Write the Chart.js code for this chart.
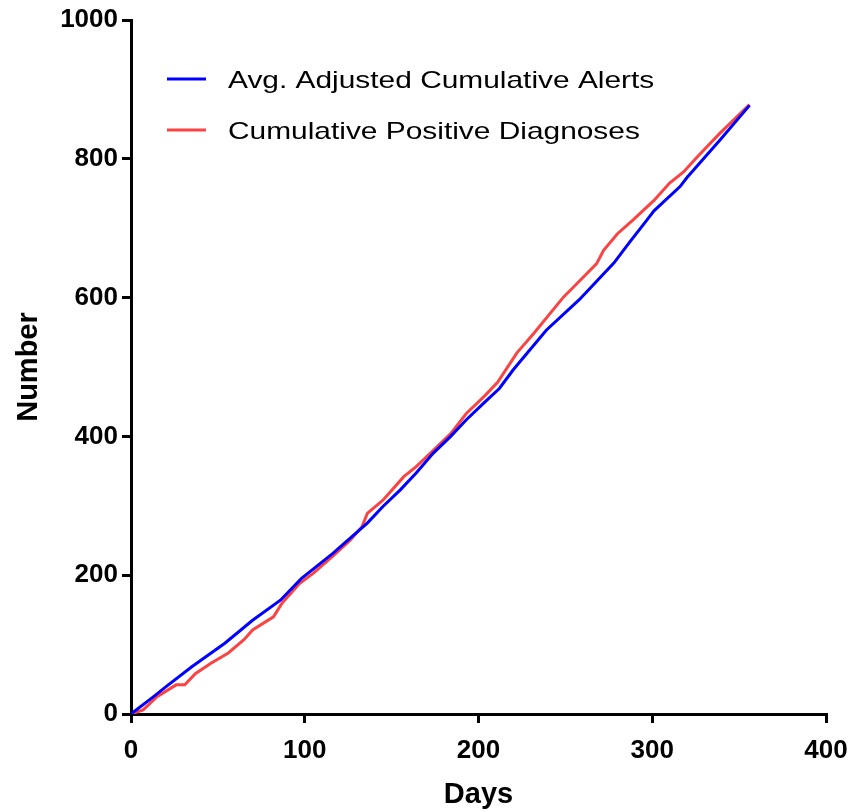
<!DOCTYPE html>
<html>
<head>
<meta charset="utf-8">
<script src="https://cdn.jsdelivr.net/npm/chart.js@4/dist/chart.umd.min.js"></script>
<style>
    html, body { margin: 0; padding: 0; background: #fff; }
    #wrap { width: 851px; height: 812px; }
</style>
</head>
<body>
<div id="wrap"><canvas id="myChart" width="851" height="812"></canvas></div>
<script>
// Dane
const alertDays = [0, 13, 20, 35, 54, 70, 86, 98, 116, 126, 136, 145, 155, 164, 174, 184, 193, 203, 212, 220, 239, 258, 278, 287, 297, 301, 316, 320, 339, 356];
const alertValues = [0, 25, 39, 68, 102, 135, 164, 195, 231, 253, 275, 299, 323, 347, 376, 400, 424, 448, 469, 496, 553, 597, 650, 680, 712, 725, 760, 773, 827, 877];

const diagDays = [0, 7, 15, 26, 31, 37, 46, 56, 65, 70, 82, 87, 97, 105, 116, 126, 133, 136, 145, 157, 164, 174, 184, 193, 203, 211, 222, 232, 249, 255, 268, 272, 280, 289, 301, 310, 318, 326, 339, 356];
const diagValues = [0, 6, 25, 42, 42, 58, 73, 88, 107, 121, 140, 160, 188, 203, 227, 250, 270, 289, 308, 342, 356, 380, 404, 433, 457, 478, 520, 549, 601, 616, 649, 668, 692, 712, 740, 765, 781, 803, 837, 878];

const seriesLabels = ['Avg. Adjusted Cumulative Alerts', 'Cumulative Positive Diagnoses'];
const xTicks = [0, 100, 200, 300, 400];
const yTicks = [0, 200, 400, 600, 800, 1000];

function toPoints(xs, ys) {
    return xs.map(function (x, i) { return { x: x, y: ys[i] }; });
}

// Legenda rysowana wewnątrz obszaru wykresu
const insideLegend = {
    id: 'insideLegend',
    afterDraw: function (chart) {
        const ctx = chart.ctx;
        ctx.save();
        ctx.font = '24px "Liberation Sans", Arial, sans-serif';
        ctx.textBaseline = 'middle';
        ctx.fillStyle = '#000';
        chart.data.datasets.forEach(function (ds, i) {
            const y = 79 + i * 51;
            ctx.strokeStyle = ds.borderColor;
            ctx.lineWidth = 3;
            ctx.beginPath();
            ctx.moveTo(167, y);
            ctx.lineTo(206, y);
            ctx.stroke();
            // tekst w oryginale jest szerszy, więc rozciągamy go poziomo
            ctx.save();
            ctx.translate(228, y + 2);
            ctx.scale(1.245, 1);
            ctx.fillText(ds.label, 0, 0);
            ctx.restore();
        });
        ctx.restore();
    }
};

const tickFont = { family: '"Liberation Sans", Arial, sans-serif', size: 26, weight: 'bold' };
const titleFont = { family: '"Liberation Sans", Arial, sans-serif', size: 29, weight: 'bold' };

const ctx = document.getElementById('myChart').getContext('2d');
const chart = new Chart(ctx, {
    type: 'line',
    data: {
        datasets: [{
            label: seriesLabels[0],
            data: toPoints(alertDays, alertValues),
            borderColor: '#0000ff',
            borderWidth: 3,
            pointRadius: 0,
            fill: false
        }, {
            label: seriesLabels[1],
            data: toPoints(diagDays, diagValues),
            borderColor: '#fa4444',
            borderWidth: 3,
            pointRadius: 0,
            fill: false
        }]
    },
    options: {
        responsive: false,
        animation: false,
        layout: { padding: { left: 0, right: 25, top: 20, bottom: 0 } },
        plugins: {
            legend: { display: false },
            tooltip: { enabled: false }
        },
        scales: {
            x: {
                type: 'linear',
                min: 0,
                max: 400,
                afterBuildTicks: function (scale) {
                    scale.ticks = xTicks.map(function (v) { return { value: v }; });
                },
                afterFit: function (scale) {
                    scale.height = 98;
                    scale.paddingRight = 0;
                },
                border: { display: true, color: '#000', width: 3 },
                grid: { display: true, drawOnChartArea: false, drawTicks: true, tickLength: 9, color: '#000', lineWidth: 3 },
                ticks: { color: '#000', font: tickFont, padding: 12, maxRotation: 0, callback: function (v) { return String(v); } },
                title: { display: true, text: 'Days', color: '#000', font: titleFont, padding: { top: 0, bottom: 0 } }
            },
            y: {
                type: 'linear',
                min: 0,
                max: 1000,
                afterBuildTicks: function (scale) {
                    scale.ticks = yTicks.map(function (v) { return { value: v }; });
                },
                afterFit: function (scale) { scale.width = 131; },
                border: { display: true, color: '#000', width: 3 },
                grid: { display: true, drawOnChartArea: false, drawTicks: true, tickLength: 9, color: '#000', lineWidth: 3 },
                ticks: { color: '#000', font: tickFont, padding: 4, callback: function (v) { return String(v); } },
                title: { display: true, text: 'Number', color: '#000', font: titleFont, padding: { top: 12, bottom: 0 } }
            }
        }
    },
    plugins: [insideLegend]
});
</script>
</body>
</html>
